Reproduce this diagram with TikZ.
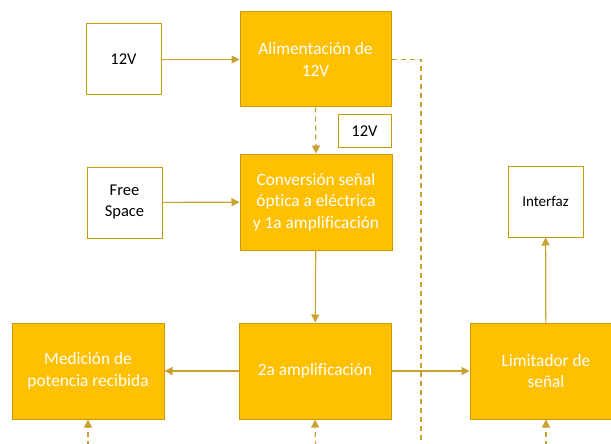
\documentclass[tikz,border=0pt]{standalone}
\usepackage{fontspec}
\setmainfont[RawFeature={-liga;-clig;-calt}]{Carlito}
\usetikzlibrary{arrows.meta}
\definecolor{gold}{HTML}{FFC000}
\definecolor{goldedge}{HTML}{C99A06}
\definecolor{goldline}{HTML}{C9A232}
\begin{document}
\begin{tikzpicture}[x=1pt,y=-1pt,
  blk/.style={draw=goldedge, fill=gold, line width=1pt, text=white, align=center,
    inner sep=0pt, font=\fontsize{17.3}{21.5}\selectfont},
  wbox/.style={draw=goldedge, fill=white, line width=1pt, text=black, align=center,
    inner sep=0pt, font=\fontsize{16.5}{21}\selectfont},
  link/.style={draw=goldline, line width=1.2pt, -{Triangle[length=8pt,width=8pt]}},
  dlink/.style={link, dash pattern=on 5pt off 4pt},
  dline/.style={draw=goldline, line width=1.2pt, dash pattern=on 5pt off 4pt}]
\useasboundingbox (0,0) rectangle (611,444);

% input boxes
\node[wbox, minimum width=75pt, minimum height=71pt] (v12) at (123.5,59.5) {12V};
\node[wbox, minimum width=75pt, minimum height=71pt] (free) at (124.5,202.5) {Free\\Space};
\node[wbox, minimum width=75pt, minimum height=71pt, font=\fontsize{15}{19}\selectfont] (interf) at (545.5,201.5) {Interfaz};
\node[wbox, minimum width=53pt, minimum height=32pt] (v12b) at (364.5,131) {12V};

% processing blocks
\node[blk, minimum width=151pt, minimum height=95pt] (alim) at (315.5,59.5) {Alimentación de\\12V};
\node[blk, minimum width=152pt, minimum height=96pt] (conv) at (316,202) {Conversión señal\\óptica a eléctrica\\y 1a amplificación};
\node[blk, minimum width=152pt, minimum height=96pt] (med) at (88,371) {Medición de\\potencia recibida};
\node[blk, minimum width=152pt, minimum height=96pt] (amp) at (315,371) {2a amplificación};
\node[blk, minimum width=152pt, minimum height=96pt] (lim) at (546,371) {Limitador de\\señal};

% loose ends at the lower edge
\coordinate (pbus) at (421,446);
\coordinate (pmed) at (88,446);
\coordinate (pamp) at (315.5,446);
\coordinate (plim) at (546,446);

% signal path
\draw[link] (v12) -- (alim);
\draw[link] (free) -- (conv);
\draw[link] (conv) -- (amp);
\draw[link] (amp) -- (med);
\draw[link] (amp) -- (lim);
\draw[link] (lim) -- (interf);

% supply lines
\draw[dlink] (alim.south) -- (conv.north);
\draw[dline] (alim.east) -| (pbus);
\draw[dlink] (pmed) -- (med.south);
\draw[dlink] (pamp) -- (amp.south);
\draw[dlink] (plim) -- (lim.south);
\end{tikzpicture}
\end{document}
